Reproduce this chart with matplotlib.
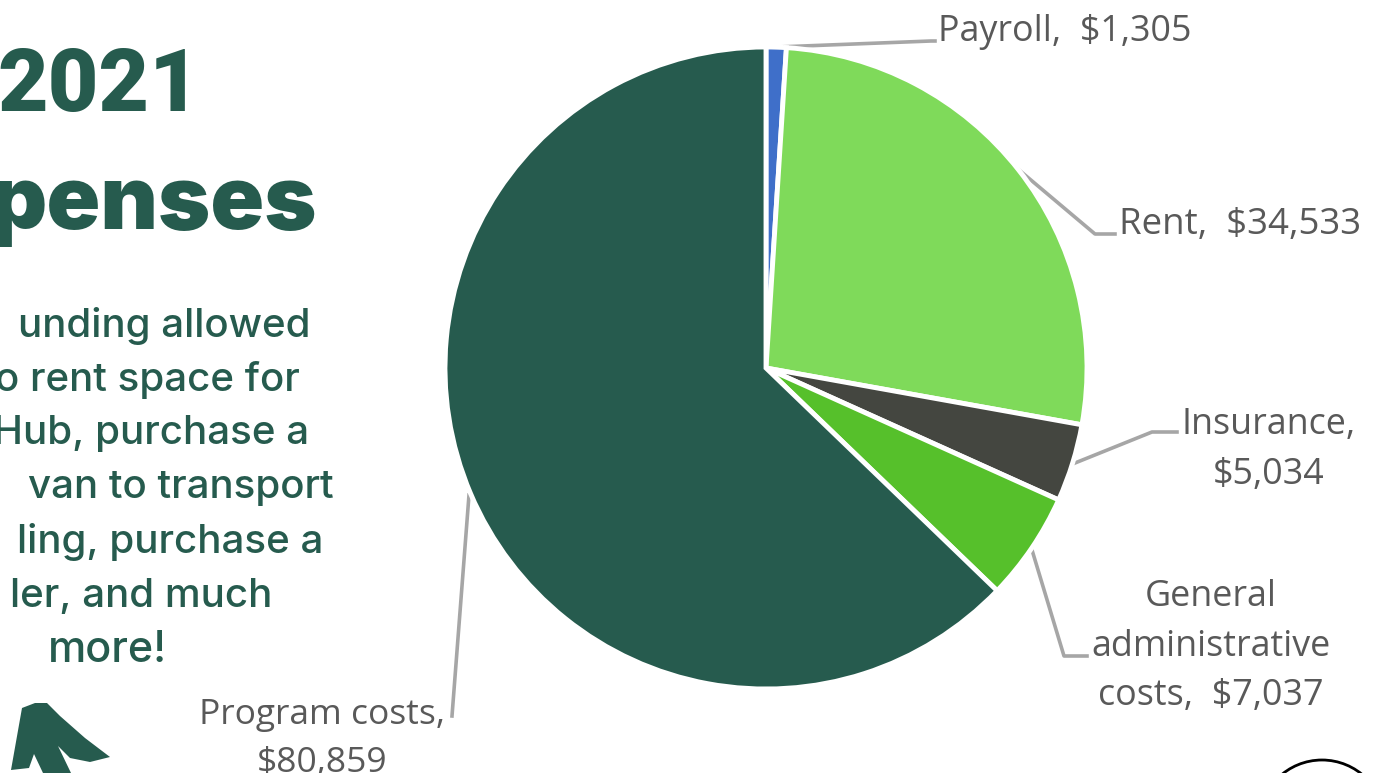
import matplotlib
matplotlib.use("Agg")
import matplotlib.pyplot as plt
from matplotlib.patches import Polygon, Circle

labels = ["Payroll,  $1,305", "Rent,  $34,533", "Insurance,\n$5,034",
          "General\nadministrative\ncosts,  $7,037", "Program costs,\n$80,859"]
values = [1305, 34533, 5034, 7037, 80859]
colors = ["#3f6fc9", "#7fda5a", "#444640", "#56c02b", "#265b4e"]

# text on the left, as much of it as the image edge leaves visible
title_year = "2021"
title_word = "penses"
body_lines = ["unding allowed", "o rent space for", "Hub, purchase a",
              "van to transport", "ling, purchase a", "ler, and much"]
body_ends = [311, 300, 309, 334, 323, 272]
last_line = "more!"
DARK = "#265b4e"
GREY = "#595959"
LEADER = "#a6a6a6"

fig = plt.figure(figsize=(13.8, 7.73), dpi=100)
bg = fig.add_axes([0, 0, 1, 1])
bg.axis("off")

# pie: centre (766, 368), radius 321 px
R = 321
ax = fig.add_axes([(766 - R) / 1380, (773 - 368 - R) / 773, 2 * R / 1380, 2 * R / 773])
ax.pie(values, colors=colors, startangle=90, counterclock=False, radius=1,
       wedgeprops=dict(edgecolor="white", linewidth=3.5))
ax.set_xlim(-1, 1)
ax.set_ylim(-1, 1)

# leader lines
bg.plot([777, 931, 935], [47, 41, 41], color=LEADER, lw=2.6)
bg.plot([1019, 1095, 1115], [170, 234, 234], color=LEADER, lw=2.6)
bg.plot([1075, 1152, 1177], [463, 432, 432], color=LEADER, lw=2.6)
bg.plot([1032, 1064, 1087], [550, 656, 656], color=LEADER, lw=2.6)
bg.plot([469, 452, 452], [495, 716, 716], color=LEADER, lw=2.6)

fs = 25.8
bg.text(938, 32, labels[0], color=GREY, fontsize=fs, family="Open Sans", ha="left", va="center")
bg.text(1119, 225, labels[1], color=GREY, fontsize=fs + 0.6, family="Open Sans", ha="left", va="center")
bg.text(1269, 450, labels[2], color=GREY, fontsize=fs, family="Open Sans", ha="center", va="center", linespacing=1.5)
bg.text(1211, 647, labels[3], color=GREY, fontsize=fs, family="Open Sans", ha="center", va="center", linespacing=1.5)
bg.text(322, 739, labels[4], color=GREY, fontsize=fs - 0.3, family="Open Sans", ha="center", va="center", linespacing=1.5)

# title
bg.text(99, 87, title_year, color=DARK, fontsize=63, family="Roboto", weight="black", ha="center", va="center")
bg.text(317, 206, title_word, color=DARK, fontsize=64, family="Inter", weight="black", ha="right", va="center")

# body copy
for i, (line, end) in enumerate(zip(body_lines, body_ends)):
    bg.text(end, 326 + i * 54, line, color=DARK, fontsize=29, family="Inter", weight="medium",
            ha="right", va="center")
bg.text(107, 650, last_line, color=DARK, fontsize=31, family="Inter", weight="medium", ha="center", va="center")

# cropped decorations at the bottom edge
bg.add_patch(Polygon([(11, 770), (22, 708), (35, 703), (47, 703), (60, 716), (85, 738), (110, 757),
                      (90, 762), (70, 758), (58, 746), (71, 773), (43, 773), (34, 754), (29, 768)],
                     closed=True, facecolor=DARK, edgecolor="none"))
bg.add_patch(Circle((1322, 823), 63, facecolor="white", edgecolor="black", lw=2))
bg.set_xlim(0, 1380)
bg.set_ylim(773, 0)

fig.savefig("out.png", dpi=100)
